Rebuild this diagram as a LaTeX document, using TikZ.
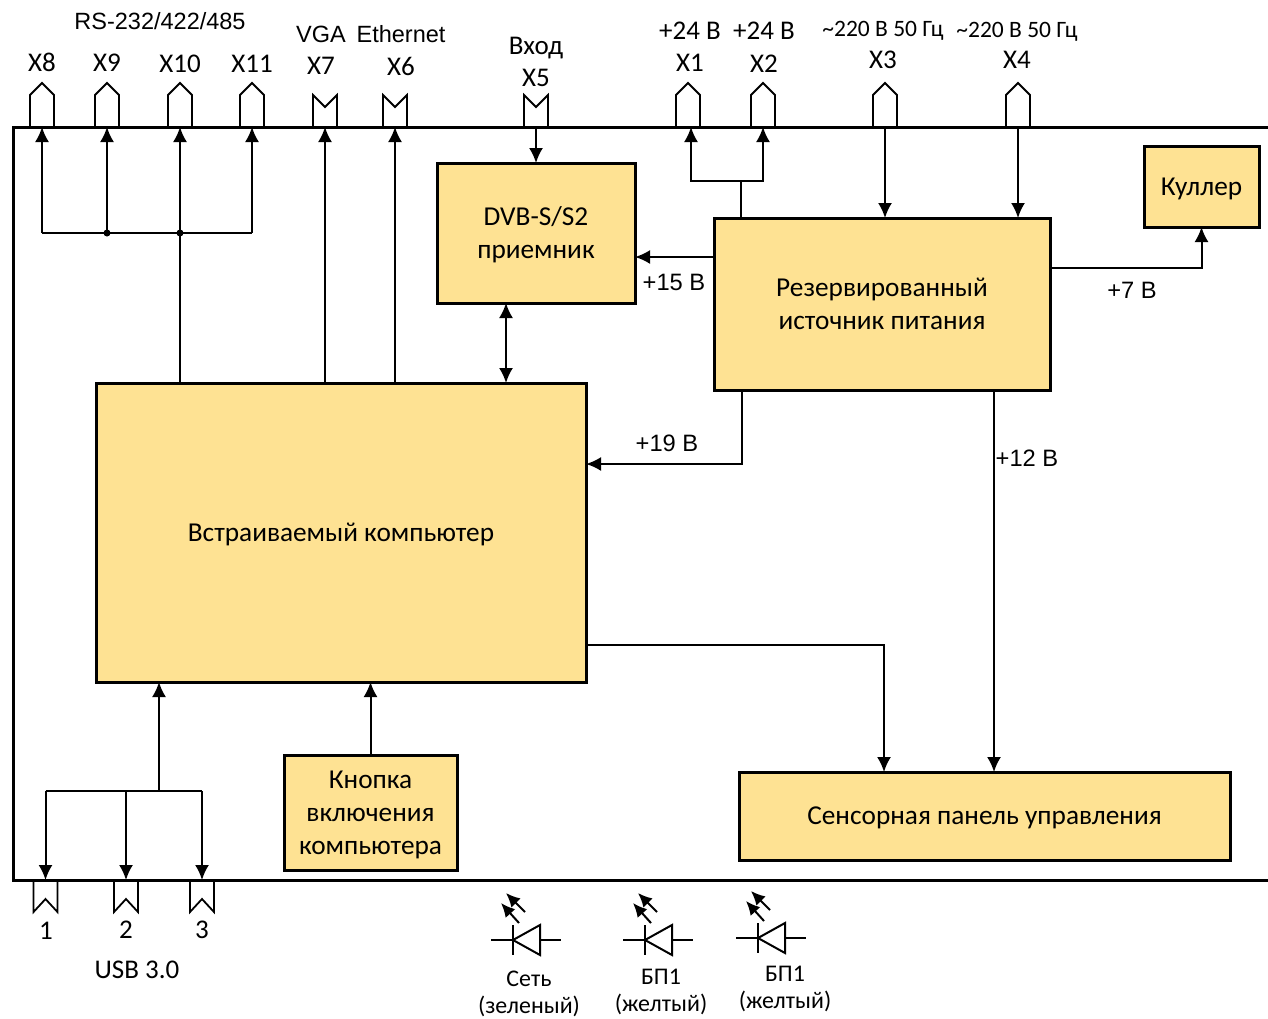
\documentclass[tikz,border=0pt]{standalone}
\usepackage{fontspec}
\setmainfont{Carlito}
\newfontfamily\arialfont{Liberation Sans}
\usetikzlibrary{arrows.meta, positioning}
\definecolor{colorBlock}{HTML}{FEE293}

\begin{document}
\begin{tikzpicture}[
        x=1pt, y=-1pt,
        blk/.style={draw=black, fill=colorBlock, line width=3pt, align=center, inner sep=0pt, outer sep=0pt, text depth=0pt,
            font=\fontsize{27.3}{33}\selectfont},
        rel/.style={-{Latex[length=15pt, width=14pt]}, line width=2pt},
        both/.style={{Latex[length=15pt, width=14pt]}-{Latex[length=15pt, width=14pt]}, line width=2pt},
        wire/.style={line width=2pt},
        lbl/.style={inner sep=0pt, text depth=0pt, font=\fontsize{27}{30}\selectfont},
        lblA/.style={inner sep=0pt, text depth=0pt, font=\arialfont\fontsize{23.5}{26}\selectfont},
        lblS/.style={inner sep=0pt, text depth=0pt, font=\fontsize{23.5}{26}\selectfont},
        volt/.style={inner sep=0pt, font=\arialfont\fontsize{23.7}{26}\selectfont},
        led/.style={inner sep=0pt, align=center, font=\fontsize{23.9}{27}\selectfont},
        dot/.style={circle, fill=black, inner sep=0pt, minimum size=7pt},
        portup/.pic={\draw[line width=1.8pt] (-12,0) -- (-12,-32) -- (0,-44) -- (12,-32) -- (12,0);},
        portin/.pic={\draw[line width=1.8pt] (-12,0) -- (-12,-32) -- (0,-20) -- (12,-32) -- (12,0);},
        portusb/.pic={\draw[line width=1.8pt] (-12,0) -- (-12,32) -- (0,19) -- (12,32) -- (12,0);},
        ledsym/.pic={
            \draw[line width=2pt] (-22,0) -- (0,0) (27,0) -- (48,0) (0,-15) -- (0,15);
            \draw[line width=2pt] (0,0) -- (27,-15) -- (27,15) -- cycle;
            \draw[-{Latex[length=14pt, width=13pt]}, line width=2pt] (6,-17) -- (-12,-37);
            \draw[-{Latex[length=14pt, width=13pt]}, line width=2pt] (12,-28) -- (-7,-47);
        }
    ]
        \useasboundingbox (0,0) rectangle (1268,1018);

        \coordinate (x8) at (42,127);
        \coordinate (x9) at (107,127);
        \coordinate (x10) at (180,127);
        \coordinate (x11) at (252,127);
        \coordinate (x7) at (325,127);
        \coordinate (x6) at (395,127);
        \coordinate (x5) at (536,127);
        \coordinate (x1) at (688,127);
        \coordinate (x1in) at (691,127);
        \coordinate (x2) at (763,127);
        \coordinate (x3) at (885,127);
        \coordinate (x4) at (1018,127);
        \coordinate (usb1) at (45.5,880);
        \coordinate (usb2) at (126,880);
        \coordinate (usb3) at (202,880);

        \pic at (x8) {portup};
        \pic at (x9) {portup};
        \pic at (x10) {portup};
        \pic at (x11) {portup};
        \pic at (x1) {portup};
        \pic at (x2) {portup};
        \pic at (x3) {portup};
        \pic at (x4) {portup};
        \pic at (x7) {portin};
        \pic at (x6) {portin};
        \pic at (x5) {portin};
        \pic at (usb1) {portusb};
        \pic at (usb2) {portusb};
        \pic at (usb3) {portusb};

        \draw[line width=3pt, line cap=rect] (1268,127) -- (13,127) -- (13,880) -- (1268,880);

        \node[blk, minimum width=198pt, minimum height=140pt] (dvb) at (536,233) {DVB-S/S2\\приемник};
        \node[blk, minimum width=336pt, minimum height=172pt] (psu) at (882,304) {Резервированный\\источник питания};
        \node[blk, minimum width=115pt, minimum height=81pt] (fan) at (1201.5,186.5) {Куллер};
        \node[blk, minimum width=490pt, minimum height=299pt] (comp) at (341,532.5) {Встраиваемый компьютер};
        \node[blk, minimum width=173pt, minimum height=115pt] (btn) at (370.5,812.5) {Кнопка\\включения\\компьютера};
        \node[blk, minimum width=491pt, minimum height=88pt] (panel) at (984.5,816) {Сенсорная панель управления};

        \node[lbl, above=55pt of x8] (l8) {X8};
        \node[lbl, above=55pt of x9] (l9) {X9};
        \node[lbl, above=54pt of x10] (l10) {X10};
        \node[lbl, above=54pt of x11] (l11) {X11};
        \node[lbl, above=52.5pt of x7, xshift=-4pt] (l7) {X7};
        \node[lbl, above=51.5pt of x6, xshift=6pt] (l6) {X6};
        \node[lbl, above=40pt of x5] (l5) {X5};
        \node[lbl, above=55.5pt of x1, xshift=2pt] (l1) {X1};
        \node[lbl, above=54.5pt of x2, xshift=1pt] (l2) {X2};
        \node[lbl, above=58pt of x3, xshift=-2pt] (l3) {X3};
        \node[lbl, above=58pt of x4, xshift=-1pt] (l4) {X4};

        \node[lblA, anchor=base] (rs) at (160,29) {RS-232/422/485};
        \node[lblA, above=14.5pt of l7] (vga) {VGA};
        \node[lblA, above=14.5pt of l6] (eth) {Ethernet};
        \node[lbl, above=15pt of l5] (vhod) {Вход};
        \node[lbl, above=14.5pt of l1] (p1) {+24 В};
        \node[lbl, above=14.5pt of l2] (p2) {+24 В};
        \node[lblS, above=14pt of l3] (p3) {\textasciitilde 220 В 50 Гц};
        \node[lblS, above=14pt of l4] (p4) {\textasciitilde 220 В 50 Гц};

        \node[lbl] (n1) at (46,931) {1};
        \node[lbl] (n2) at (126,930) {2};
        \node[lbl] (n3) at (202,930) {3};
        \node[lbl] (usb) at (137,970) {USB 3.0};

        \coordinate (busTop) at (180,233);
        \coordinate (busPow) at (741,181);
        \coordinate (busUsb) at (159,791);

        \draw[rel] (x8 |- busTop) -- (x8);
        \draw[rel] (x9 |- busTop) -- (x9);
        \draw[rel] (x10 |- busTop) -- (x10);
        \draw[rel] (x11 |- busTop) -- (x11);
        \draw[wire] (x8 |- busTop) -- (x11 |- busTop);
        \draw[wire] (comp.north -| busTop) -- (busTop);
        \node[dot] (d1) at (x9 |- busTop) {};
        \node[dot] (d2) at (busTop) {};

        \draw[rel] (x7 |- comp.north) -- (x7);
        \draw[rel] (x6 |- comp.north) -- (x6);
        \draw[rel] (x5) -- (dvb.north);
        \draw[both] (506,303) -- (506,383);
        \draw[rel] (psu.west |- 0,257) -- (dvb.east |- 0,257);
        \node[volt] (v15) at (674,282) {+15 В};

        \draw[wire] (psu.north -| busPow) -- (busPow);
        \draw[rel] (busPow) -| (x1in);
        \draw[rel] (busPow) -| (x2);
        \draw[rel] (x3) -- (x3 |- psu.north);
        \draw[rel] (x4) -- (x4 |- psu.north);

        \draw[rel] (psu.east |- 0,268) -| (fan.south);
        \node[volt] (v7) at (1132,290) {+7 В};
        \draw[rel] (742,390) |- (comp.east |- 0,464);
        \node[volt] (v19) at (667,443) {+19 В};
        \draw[rel] (994,390) -- (994,772);
        \node[volt] (v12) at (1027,458) {+12 В};
        \draw[rel] (comp.east |- 0,645) -| (884,772);

        \draw[rel] (btn.north) -- (btn.north |- comp.south);
        \draw[rel] (busUsb) -- (busUsb |- comp.south);
        \draw[wire] (usb1 |- busUsb) -- (usb3 |- busUsb);
        \draw[rel] (usb1 |- busUsb) -- (usb1);
        \draw[rel] (usb2 |- busUsb) -- (usb2);
        \draw[rel] (usb3 |- busUsb) -- (usb3);

        \coordinate (led1) at (513,940);
        \coordinate (led2) at (645,940);
        \coordinate (led3) at (758,938);
        \pic at (led1) {ledsym};
        \pic at (led2) {ledsym};
        \pic at (led3) {ledsym};
        \node[led] (t1) at (529,993.5) {Сеть\\(зеленый)};
        \node[led] (t2) at (661,992) {БП1\\(желтый)};
        \node[led] (t3) at (785,989) {БП1\\(желтый)};
    \end{tikzpicture}
\end{document}
